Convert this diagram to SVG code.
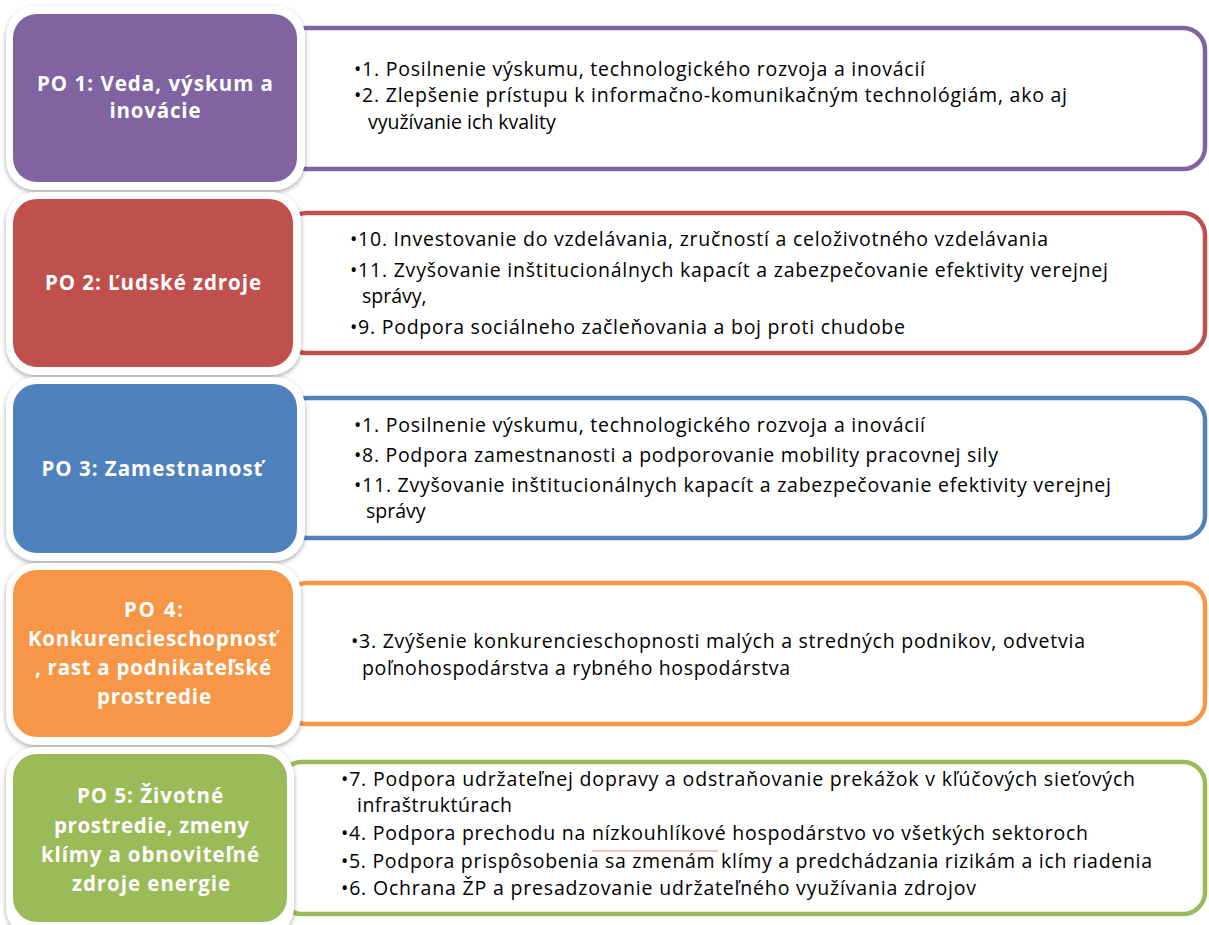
<svg xmlns="http://www.w3.org/2000/svg" width="1209" height="925" viewBox="0 0 1209 925">
<style>
.bg{fill:#ffffff}
.outer{fill:#ffffff;filter:url(#sh)}
.title{font-family:"Open Sans","Liberation Sans",sans-serif;font-weight:bold;font-size:20.5px;fill:#ffffff;text-anchor:middle}
.item{font-family:"Open Sans","Liberation Sans",sans-serif;font-size:19.5px;fill:#000000}
.box{fill:#ffffff;stroke-width:4.5}
</style>
<defs>
<filter id="sh" x="-10%" y="-10%" width="120%" height="120%">
<feGaussianBlur in="SourceAlpha" stdDeviation="2.5"/>
<feOffset dx="0" dy="1.5" result="b"/>
<feComponentTransfer><feFuncA type="linear" slope="0.35"/></feComponentTransfer>
<feMerge><feMergeNode/><feMergeNode in="SourceGraphic"/></feMerge>
</filter>
</defs>
<rect class="bg" x="0" y="0" width="1209" height="925"/>
<g id="connectors"></g>

<g id="po1">
<rect class="box" x="285" y="28" width="920" height="141" rx="22" stroke="#8064A2"/>
<rect class="outer" x="6" y="6" width="299" height="184" rx="30"/>
<rect x="13" y="14" width="284" height="168" rx="24" fill="#8064A2"/>
<text class="title" x="155" y="91" textLength="236" lengthAdjust="spacing">PO 1: Veda, výskum a</text>
<text class="title" x="155" y="118" textLength="91" lengthAdjust="spacing">inovácie</text>
<text class="item" x="354" y="76" textLength="571" lengthAdjust="spacing">•1. Posilnenie výskumu, technologického rozvoja a inovácií</text>
<text class="item" x="354" y="102" textLength="713" lengthAdjust="spacing">•2. Zlepšenie prístupu k informačno-komunikačným technológiám, ako aj</text>
<text class="item" x="368" y="129">využívanie ich kvality</text>
</g>

<g id="po2">
<rect class="box" x="285" y="213" width="920" height="140" rx="22" stroke="#C0504D"/>
<rect class="outer" x="6" y="192" width="295" height="183" rx="30"/>
<rect x="13" y="199" width="280" height="168" rx="24" fill="#C0504D"/>
<text class="title" x="153" y="290" textLength="216" lengthAdjust="spacing">PO 2: Ľudské zdroje</text>
<text class="item" x="350" y="246" textLength="698" lengthAdjust="spacing">•10. Investovanie do vzdelávania, zručností a celoživotného vzdelávania</text>
<text class="item" x="350" y="277" textLength="758" lengthAdjust="spacing">•11. Zvyšovanie inštitucionálnych kapacít a zabezpečovanie efektivity verejnej</text>
<text class="item" x="362" y="303">správy,</text>
<text class="item" x="350" y="334" textLength="555" lengthAdjust="spacing">•9. Podpora sociálneho začleňovania a boj proti chudobe</text>
</g>

<g id="po3">
<rect class="box" x="285" y="398" width="920" height="140" rx="22" stroke="#4F81BD"/>
<rect class="outer" x="6" y="377" width="299" height="184" rx="30"/>
<rect x="13" y="384" width="284" height="169" rx="24" fill="#4F81BD"/>
<text class="title" x="152" y="476" textLength="221" lengthAdjust="spacing">PO 3: Zamestnanosť</text>
<text class="item" x="354" y="432" textLength="571" lengthAdjust="spacing">•1. Posilnenie výskumu, technologického rozvoja a inovácií</text>
<text class="item" x="354" y="462" textLength="644" lengthAdjust="spacing">•8. Podpora zamestnanosti a podporovanie mobility pracovnej sily</text>
<text class="item" x="354" y="492" textLength="757" lengthAdjust="spacing">•11. Zvyšovanie inštitucionálnych kapacít a zabezpečovanie efektivity verejnej</text>
<text class="item" x="366" y="518">správy</text>
</g>

<g id="po4">
<rect class="box" x="285" y="583" width="920" height="141" rx="22" stroke="#F79646"/>
<rect class="outer" x="6" y="563" width="295" height="182" rx="30"/>
<rect x="13" y="570" width="280" height="167" rx="24" fill="#F79646"/>
<text class="title" x="153.5" y="617" textLength="59" lengthAdjust="spacing">PO 4:</text>
<text class="title" x="152.5" y="646" textLength="249" lengthAdjust="spacing">Konkurencieschopnosť</text>
<text class="title" x="153" y="675" textLength="236" lengthAdjust="spacing">, rast a podnikateľské</text>
<text class="title" x="154" y="704" textLength="114" lengthAdjust="spacing">prostredie</text>
<text class="item" x="351" y="648" textLength="734" lengthAdjust="spacing">•3. Zvýšenie konkurencieschopnosti malých a stredných podnikov, odvetvia</text>
<text class="item" x="362" y="675" textLength="428" lengthAdjust="spacing">poľnohospodárstva a rybného hospodárstva</text>
</g>

<g id="po5">
<rect class="box" x="280" y="762" width="925" height="152" rx="22" stroke="#9BBB59"/>
<rect class="outer" x="6" y="747" width="288" height="190" rx="30"/>
<rect x="13" y="754" width="274" height="168" rx="24" fill="#9BBB59"/>
<text class="title" x="150" y="803" textLength="146" lengthAdjust="spacing">PO 5: Životné</text>
<text class="title" x="151.5" y="833" textLength="195" lengthAdjust="spacing">prostredie, zmeny</text>
<text class="title" x="150" y="862" textLength="218" lengthAdjust="spacing">klímy a obnoviteľné</text>
<text class="title" x="151" y="891" textLength="158" lengthAdjust="spacing">zdroje energie</text>
<text class="item" x="341" y="786" textLength="794" lengthAdjust="spacing">•7. Podpora udržateľnej dopravy a odstraňovanie prekážok v kľúčových sieťových</text>
<text class="item" x="357" y="812" textLength="155" lengthAdjust="spacing">infraštruktúrach</text>
<text class="item" x="341" y="840" textLength="747" lengthAdjust="spacing">•4. Podpora prechodu na nízkouhlíkové hospodárstvo vo všetkých sektoroch</text>
<line x1="592" y1="851" x2="718" y2="851" stroke="#f08080" stroke-width="1"/>
<text class="item" x="341" y="868" textLength="811" lengthAdjust="spacing">•5. Podpora prispôsobenia sa zmenám klímy a predchádzania rizikám a ich riadenia</text>
<text class="item" x="341" y="895" textLength="635" lengthAdjust="spacing">•6. Ochrana ŽP a presadzovanie udržateľného využívania zdrojov</text>
</g>
</svg>
